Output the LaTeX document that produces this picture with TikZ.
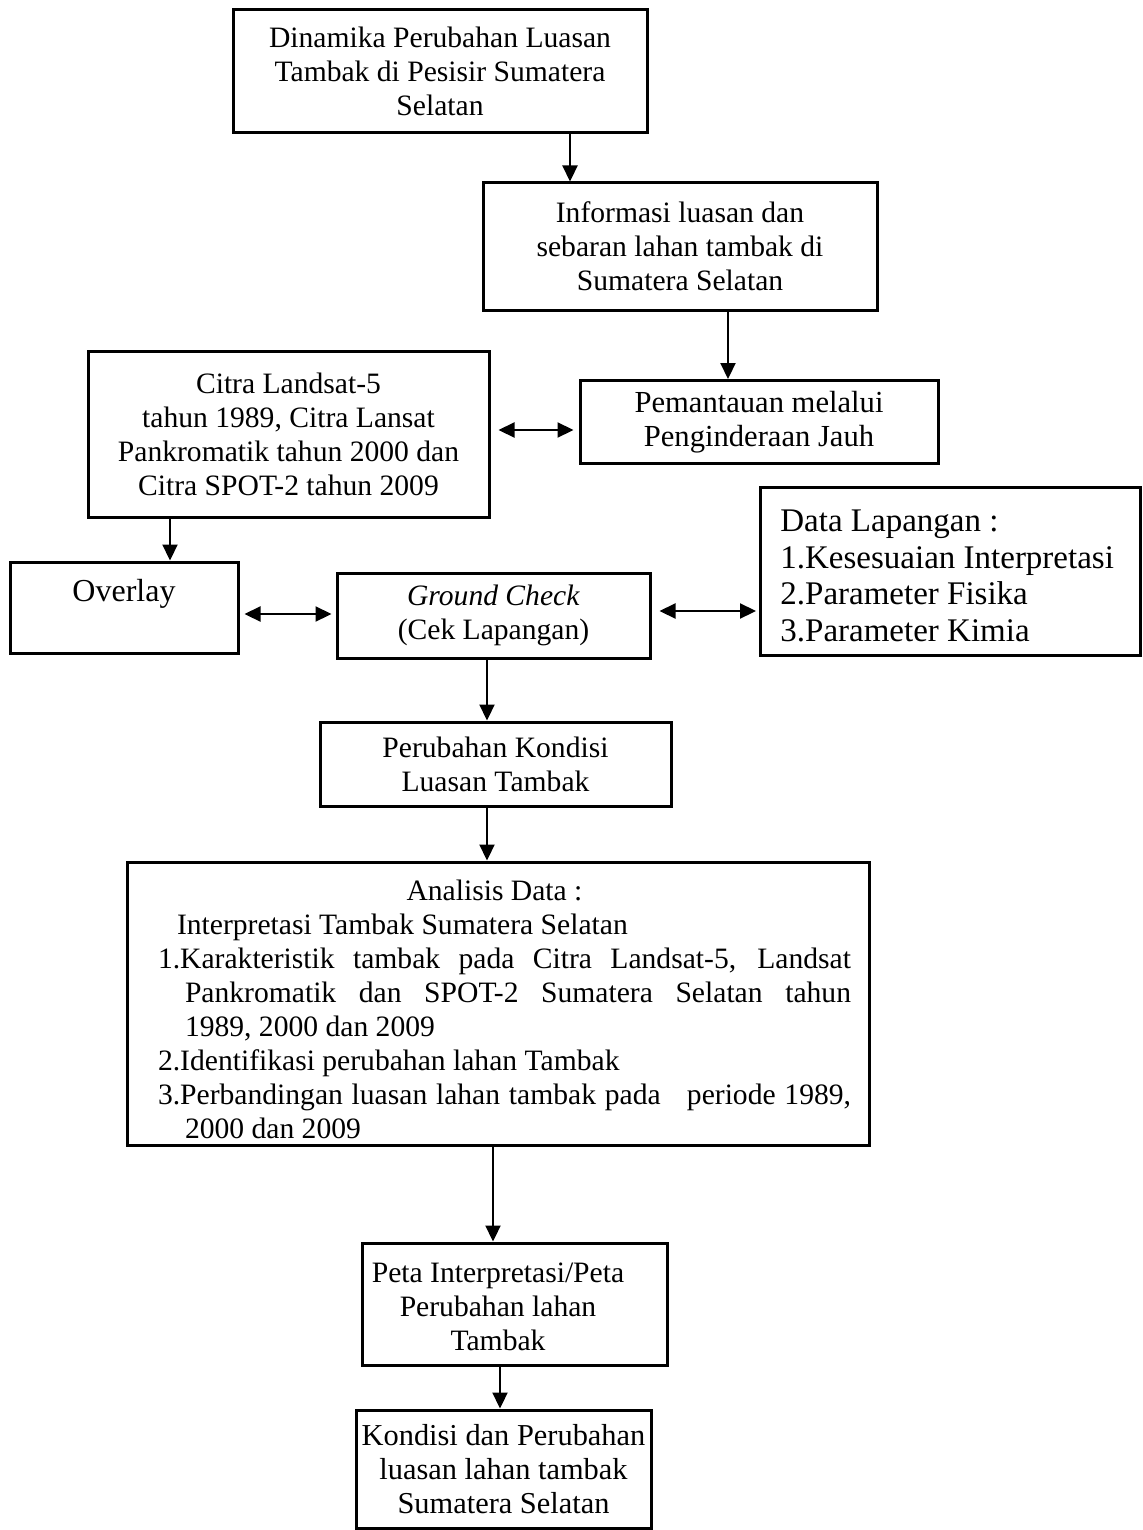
\documentclass[tikz,border=0pt]{standalone}
\usepackage{fontspec}
\setmainfont{Liberation Serif}
\usetikzlibrary{arrows.meta}
\newcommand\fsz{\fontsize{14.8}{17}\selectfont}
\tikzset{
  box/.style={draw, line width=1.5pt, inner sep=0pt, align=center, font=\fsz},
  txt/.style={inner sep=0pt, font=\fsz},
  arr/.style={-{Triangle[length=8pt,width=7.5pt]}, line width=1.1pt},
  darr/.style={{Triangle[length=8pt,width=7.5pt]}-{Triangle[length=8pt,width=7.5pt]}, line width=1.1pt}
}
\begin{document}
\begin{tikzpicture}[x=0.5pt,y=-0.5pt]
\useasboundingbox (0,0) rectangle (1143,1530);
% helper coordinates
\coordinate (c570) at (570,0);
\coordinate (c728) at (728,0);
\coordinate (c170) at (170,0);
\coordinate (c487) at (487,0);
\coordinate (c493) at (493,0);
\coordinate (c500) at (500,0);
\coordinate (r430) at (0,430);
\coordinate (r614) at (0,614);
\coordinate (r611) at (0,611);
% boxes
\node[box, minimum width=207pt, minimum height=61.5pt] (b1) at (440,71.5)
  {Dinamika Perubahan Luasan\\Tambak di Pesisir Sumatera\\Selatan};
\node[box, minimum width=197pt, minimum height=63.5pt] (b2) at (680,246.5)
  {Informasi luasan dan\\sebaran lahan tambak di\\Sumatera Selatan};
\node[box, minimum width=179pt, minimum height=41.5pt, font=\fontsize{15.3}{17}\selectfont] (b3) at (759,422)
  {Pemantauan melalui\\Penginderaan Jauh};
\node[box, minimum width=200.5pt, minimum height=83pt] (b4) at (288.5,434)
  {Citra Landsat-5\\tahun 1989, Citra Lansat\\Pankromatik tahun 2000 dan\\Citra SPOT-2 tahun 2009};
\node[box, minimum width=114pt, minimum height=45.5pt] (ov) at (124,607.5) {};
\node[txt, font=\fontsize{16}{18}\selectfont] (ovt) at (124,594) {Overlay};
\node[box, minimum width=156.5pt, minimum height=42.5pt] (gc) at (493.5,615.5)
  {\textit{Ground Check}\\(Cek Lapangan)};
\node[box, minimum width=190pt, minimum height=84pt] (dl) at (950.5,571) {};
\node[txt, anchor=west, align=left, font=\fontsize{16.5}{18.4}\selectfont] (dlt) at (780,576)
  {Data Lapangan :\\1.Kesesuaian Interpretasi\\2.Parameter Fisika\\3.Parameter Kimia};
\node[box, minimum width=175.5pt, minimum height=42pt] (pk) at (495.5,764)
  {Perubahan Kondisi\\Luasan Tambak};
\node[box, minimum width=371pt, minimum height=141.5pt] (an) at (498,1003.5) {};
\node[txt, text width=346.5pt, align=justify] (ant) at (504.5,1009) {%
  \parindent=0pt
  {\centering Analisis Data :\hspace*{10pt}\par}
  \hspace*{9.5pt}Interpretasi Tambak Sumatera Selatan\par
  \hangindent=13.5pt\hangafter=1
  1.Karakteristik tambak pada Citra Landsat-5, Landsat\linebreak
  Pankromatik dan SPOT-2 Sumatera Selatan tahun\linebreak
  1989, 2000 dan 2009\par
  2.Identifikasi perubahan lahan Tambak\par
  \hangindent=13.5pt\hangafter=1
  3.Perbandingan luasan lahan tambak pada \ \ periode 1989,\linebreak
  2000 dan 2009\par};
\node[box, minimum width=152.5pt, minimum height=61pt] (pt) at (514.5,1304) {};
\node[txt, align=center] (ptt) at (498,1307)
  {Peta Interpretasi/Peta\\Perubahan lahan\\Tambak};
\node[box, minimum width=147.5pt, minimum height=59pt, font=\fontsize{15.2}{17}\selectfont] (kd) at (503.5,1469)
  {Kondisi dan Perubahan\\luasan lahan tambak\\Sumatera Selatan};
% connectors
\draw[arr] (b1.south -| c570) -- (b2.north -| c570);
\draw[arr] (b2.south -| c728) -- (b3.north -| c728);
\draw[darr, shorten <=4pt, shorten >=2.5pt] (b4.east |- r430) -- (b3.west |- r430);
\draw[arr] (b4.south -| c170) -- (ov.north -| c170);
\draw[darr, shorten <=2.5pt, shorten >=2pt] (ov.east |- r614) -- (gc.west |- r614);
\draw[darr, shorten <=4pt, shorten >=1.5pt] (gc.east |- r611) -- (dl.west |- r611);
\draw[arr] (gc.south -| c487) -- (pk.north -| c487);
\draw[arr] (pk.south -| c487) -- (an.north -| c487);
\draw[arr] (an.south -| c493) -- (pt.north -| c493);
\draw[arr] (pt.south -| c500) -- (kd.north -| c500);
\end{tikzpicture}
\end{document}
